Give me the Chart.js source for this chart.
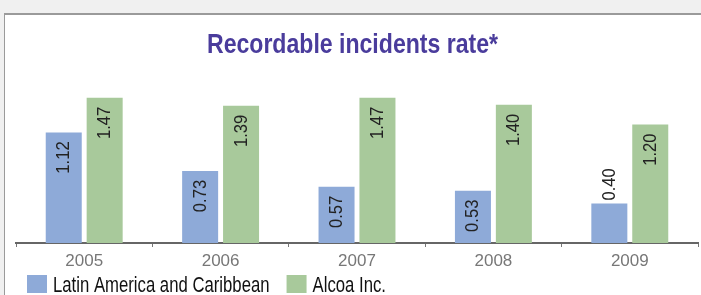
<!DOCTYPE html>
<html>
<head>
<meta charset="utf-8">
<script src="https://cdn.jsdelivr.net/npm/chart.js@4.4.0/dist/chart.umd.min.js"></script>
<style>
  html, body { margin: 0; padding: 0; background: #f0f0f0; overflow: hidden; }
  #frame { position: absolute; left: 4px; top: 13px; width: 720px; height: 300px;
           background: #fff; border-left: 1px solid #9a9a9a; border-top: 2px solid #9a9a9a; }
  #chart { position: absolute; left: 0; top: 0; }
</style>
</head>
<body>
<div id="frame"></div>
<canvas id="chart" width="701" height="295"></canvas>
<script>
const years = ['2005', '2006', '2007', '2008', '2009'];
const latinAmerica = [1.12, 0.73, 0.57, 0.53, 0.40];
const alcoa = [1.47, 1.39, 1.47, 1.40, 1.20];
const chartTitle = 'Recordable incidents rate*';

const sans = '"Liberation Sans", Arial, Helvetica, sans-serif';

// the original uses a condensed Helvetica, so squeeze Liberation Sans a bit
function condensedText(ctx, txt, x, y, squeeze) {
  ctx.save();
  ctx.translate(x, y);
  ctx.scale(squeeze, 1);
  ctx.fillText(txt, 0, 0);
  ctx.restore();
}

const decorations = {
  id: 'decorations',
  afterDraw(chart) {
    const ctx = chart.ctx;
    ctx.save();

    // title
    ctx.font = 'bold 28px ' + sans;
    ctx.fillStyle = '#4a3c9c';
    ctx.textAlign = 'center';
    ctx.textBaseline = 'alphabetic';
    condensedText(ctx, chartTitle, 352.5, 53, 0.824);

    // value labels, written upwards
    ctx.font = '18px ' + sans;
    ctx.fillStyle = '#222';
    ctx.textBaseline = 'middle';
    chart.data.datasets.forEach((ds, i) => {
      chart.getDatasetMeta(i).data.forEach((bar, j) => {
        const txt = ds.data[j].toFixed(2);
        const w = ctx.measureText(txt).width * 0.92;
        const h = bar.base - bar.y;
        ctx.save();
        ctx.translate(bar.x + 0.5, h >= w + 14 ? bar.y + 9 : bar.y - 3);
        ctx.rotate(-Math.PI / 2);
        ctx.textAlign = h >= w + 14 ? 'right' : 'left';
        condensedText(ctx, txt, 0, 0, 0.92);
        ctx.restore();
      });
    });

    // legend
    ctx.font = '22px ' + sans;
    ctx.textAlign = 'left';
    ctx.textBaseline = 'alphabetic';
    let x = 27;
    chart.data.datasets.forEach(ds => {
      ctx.fillStyle = ds.backgroundColor;
      ctx.fillRect(x, 275, 20, 18);
      ctx.fillStyle = '#111';
      condensedText(ctx, ds.label, x + 26, 292, 0.76);
      x += 26 + ctx.measureText(ds.label).width * 0.76 + 17;
    });

    ctx.restore();
  }
};

new Chart(document.getElementById('chart'), {
  type: 'bar',
  data: {
    labels: years,
    datasets: [
      { label: 'Latin America and Caribbean', data: latinAmerica, backgroundColor: '#8eaad8',
        borderWidth: 0, barPercentage: 0.88, categoryPercentage: 0.6 },
      { label: 'Alcoa Inc.', data: alcoa, backgroundColor: '#a8c99b',
        borderWidth: 0, barPercentage: 0.88, categoryPercentage: 0.6 }
    ]
  },
  options: {
    responsive: false,
    animation: false,
    layout: { padding: { left: 16, right: 3, top: 85, bottom: 22 } },
    scales: {
      x: {
        grid: { display: true, drawOnChartArea: false, drawTicks: true, tickLength: 4, color: '#777' },
        border: { display: true, color: '#666', width: 2 },
        ticks: { color: '#777', padding: 6, font: { family: sans, size: 17, lineHeight: 1 } },
        afterFit(scale) { scale.height = 30; }
      },
      y: { display: false, min: 0, max: 1.6 }
    },
    plugins: {
      title: { display: false },
      legend: { display: false },
      tooltip: { enabled: false }
    }
  },
  plugins: [decorations]
});
</script>
</body>
</html>
